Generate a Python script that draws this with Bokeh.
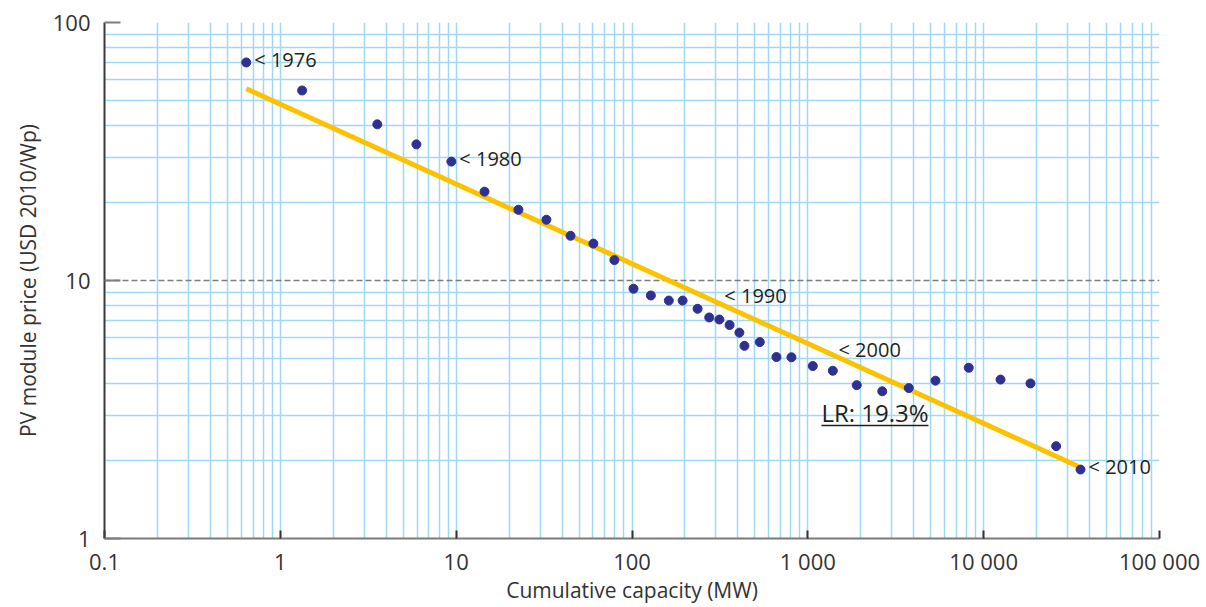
import math

from bokeh.plotting import figure
from bokeh.models import FixedTicker
from bokeh.core.properties import value
from bokeh.embed import file_html
from bokeh.resources import INLINE

# Cumulative installed PV capacity (MW) and module price (USD 2010/Wp)
capacity_mw = [0.64, 1.33, 3.56, 5.94, 9.39, 14.5, 22.6, 32.6, 44.7, 60.3, 79.4,
               102, 128, 162, 194, 236, 275, 314, 359, 408, 436, 533, 663, 807,
               1067, 1387, 1897, 2650, 3750, 5320, 8225, 12470, 18460, 25840, 35550]
price_usd = [70.0, 54.5, 40.3, 33.7, 28.9, 22.1, 18.8, 17.2, 14.9, 13.9, 12.0,
             9.29, 8.75, 8.36, 8.36, 7.77, 7.19, 7.06, 6.72, 6.28, 5.58, 5.77, 5.05, 5.04,
             4.66, 4.47, 3.93, 3.72, 3.83, 4.09, 4.59, 4.13, 3.99, 2.28, 1.85]

# Experience curve: learning rate and the capacity span of the fitted line
learning_rate = 0.193
fit_capacity = [0.64, 34600]
fit_start_price = 55.4

# Year markers
year_labels = ["< 1976", "< 1980", "< 2010"]
year_label_x = [0.64, 9.39, 35550]
year_label_y = [70.0, 28.9, 1.85]
free_labels = ["< 1990", "< 2000"]
free_label_x = [335, 1493]
free_label_y = [8.75, 5.4]

# Axis ticks
x_ticks = [0.1, 1, 10, 100, 1000, 10000, 100000]
x_tick_labels = ["0.1", "1", "10", "100", "1 000", "10 000", "100 000"]
y_ticks = [1, 10, 100]
y_tick_labels = ["1", "10", "100"]

FONT = "Open Sans"
GRID_BLUE = "#9fd8f3"
INK = "#231f20"

# Fitted line: price falls by the learning rate with every doubling of capacity
exponent = math.log2(1 - learning_rate)
fit_price = [fit_start_price * (c / fit_capacity[0]) ** exponent for c in fit_capacity]

p = figure(width=1206, height=607, x_axis_type="log", y_axis_type="log",
           x_range=(0.1, 100000), y_range=(1, 100),
           output_backend="svg", toolbar_location=None,
           min_border_left=104, min_border_right=47,
           min_border_top=22, min_border_bottom=69)
p.outline_line_color = None
p.background_fill_color = "white"

minor_x = [k * 10.0 ** e for e in range(-1, 5) for k in range(2, 10)]
minor_y = [k * 10.0 ** e for e in range(0, 2) for k in range(2, 10)]
p.xaxis.ticker = FixedTicker(ticks=x_ticks, minor_ticks=minor_x)
p.yaxis.ticker = FixedTicker(ticks=y_ticks, minor_ticks=minor_y)
p.xaxis.major_label_overrides = dict(zip(x_ticks, x_tick_labels))
p.yaxis.major_label_overrides = dict(zip(y_ticks, y_tick_labels))

# Grid
p.xgrid.grid_line_color = GRID_BLUE
p.xgrid.grid_line_width = 1.5
p.xgrid.minor_grid_line_color = GRID_BLUE
p.xgrid.minor_grid_line_width = 1.5
p.ygrid.grid_line_color = "#7d7d7d"
p.ygrid.grid_line_width = 1.5
p.ygrid.grid_line_dash = "6 3"
p.ygrid.minor_grid_line_color = GRID_BLUE
p.ygrid.minor_grid_line_width = 1.5

# Axes
for ax in (p.xaxis[0], p.yaxis[0]):
    ax.minor_tick_line_color = None
    ax.major_tick_out = 0
    ax.major_label_text_font = FONT
    ax.major_label_text_font_size = "22px"
    ax.major_label_text_color = "#333333"
    ax.axis_label_text_font = FONT
    ax.axis_label_text_font_size = "21px"
    ax.axis_label_text_font_style = "normal"
    ax.axis_label_text_color = "#333333"

p.xaxis.axis_label = "Cumulative capacity (MW)"
p.xaxis.axis_line_color = "#7a7a7a"
p.xaxis.axis_line_width = 2
p.xaxis.major_tick_in = 8
p.xaxis.major_tick_line_color = "#333333"
p.xaxis.major_tick_line_width = 2
p.xaxis.major_label_standoff = 3
p.xaxis.axis_label_standoff = -3

p.yaxis.axis_label = "PV module price (USD 2010/Wp)"
p.yaxis.axis_line_color = "#3a3a3a"
p.yaxis.axis_line_width = 2
p.yaxis.major_tick_in = 16
p.yaxis.major_tick_line_color = "#7d7d7d"
p.yaxis.major_tick_line_width = 2
p.yaxis.major_label_standoff = 10
p.yaxis.axis_label_standoff = 8

# Fitted experience curve and observations
p.line(fit_capacity, fit_price, line_color="#fcc200", line_width=5)
p.scatter(capacity_mw, price_usd, size=9, fill_color="#2e3192", line_color="#2e3192")

text_style = dict(text_font=value(FONT), text_color=INK,
                  text_align="left", text_baseline="middle")
p.text(year_label_x, year_label_y, text=year_labels, x_offset=8, y_offset=-3,
       text_font_size="20px", **text_style)
p.text(free_label_x, free_label_y, text=free_labels, text_font_size="20px", **text_style)

# Learning-rate note, underlined
lr_text = f"LR: {learning_rate * 100:.1f}%"
p.text([1195], [3.08], text=[lr_text], text_font_size="24px", **text_style)
p.segment(x0=[1195], y0=[2.74], x1=[4853], y1=[2.74], line_color=INK, line_width=1.5)

open("out.html", "w").write(file_html(p, INLINE))
